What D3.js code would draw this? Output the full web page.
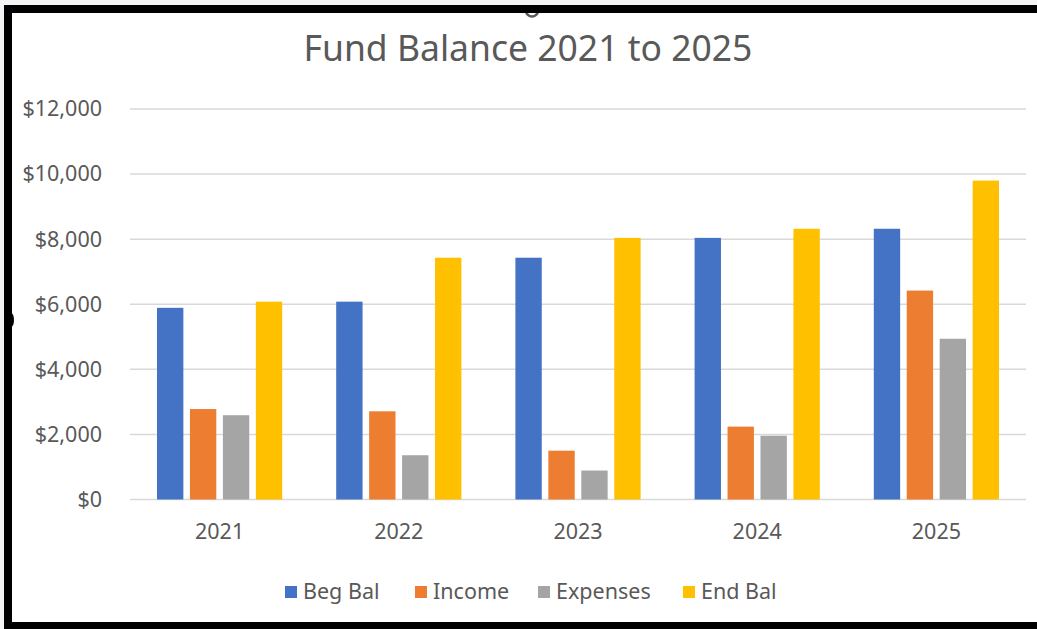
<!DOCTYPE html>
<html>
<head>
<meta charset="utf-8">
<script src="https://cdn.jsdelivr.net/npm/d3@7"></script>
<style>
  body { margin: 0; background: #f4f4f6; }
  svg { display: block; }
</style>
</head>
<body>
<svg id="chart" width="1037" height="629"></svg>
<script>
//Chart data
var years = ["2021", "2022", "2023", "2024", "2025"];
var seriesNames = ["Beg Bal", "Income", "Expenses", "End Bal"];
var begBal = [5890, 6080, 7430, 8040, 8320];
var income = [2780, 2710, 1500, 2240, 6420];
var expenses = [2590, 1360, 890, 1960, 4940];
var endBal = [6080, 7430, 8040, 8320, 9800];
var yTicks = [0, 2000, 4000, 6000, 8000, 10000, 12000];
var colors = ["#4472C4", "#ED7D31", "#A5A5A5", "#FFC000"];

var values = [begBal, income, expenses, endBal];
var font = "'Noto Sans', sans-serif";

var svg = d3.select("#chart");

//White chart area with the thick black frame (left, top, bottom)
svg.append("rect").attr("x", 4).attr("y", 5).attr("width", 1033).attr("height", 624).attr("fill", "#ffffff");

//Cut-off stroke of a line above the title (just a small curve)
svg.append("path")
    .attr("d", "M526,13 Q532,20 538,13")
    .attr("fill", "none")
    .attr("stroke", "#595959")
    .attr("stroke-width", 2.5);

svg.append("rect").attr("x", 4).attr("y", 5).attr("width", 1033).attr("height", 8).attr("fill", "#000");
svg.append("rect").attr("x", 4).attr("y", 5).attr("width", 8).attr("height", 624).attr("fill", "#000");
svg.append("rect").attr("x", 4).attr("y", 622).attr("width", 1033).attr("height", 7).attr("fill", "#000");
svg.append("ellipse").attr("cx", 11).attr("cy", 320).attr("rx", 3).attr("ry", 7).attr("fill", "#000");

//Scales
var x0 = d3.scaleBand().domain(years).range([130, 1026]);
var x1 = d3.scaleBand().domain(seriesNames)
    .range([27, x0.bandwidth() - 27]).paddingInner(0.2);
var y = d3.scaleLinear().domain([0, 12000]).range([499.5, 109]);

//Gridlines
svg.append("g")
    .selectAll("line")
    .data(yTicks)
    .join("line")
    .attr("x1", 130).attr("x2", 1026)
    .attr("y1", d => y(d)).attr("y2", d => y(d))
    .attr("stroke", "#d9d9d9").attr("stroke-width", 1.5);

//Y axis labels
var yAxis = d3.axisLeft(y).tickValues(yTicks).tickSize(0).tickPadding(0)
    .tickFormat(d => "$" + d3.format(",")(d));
svg.append("g")
    .attr("transform", "translate(102,0)")
    .call(yAxis)
    .call(g => g.select(".domain").remove())
    .selectAll("text")
    .attr("fill", "#595959")
    .style("font-family", font)
    .style("font-size", "21.5px");

//X axis labels
var xAxis = d3.axisBottom(x0).tickSize(0).tickPadding(0);
svg.append("g")
    .attr("transform", "translate(0,524)")
    .call(xAxis)
    .call(g => g.select(".domain").remove())
    .selectAll("text")
    .attr("fill", "#595959")
    .style("font-family", font)
    .style("font-size", "21.5px");

//Bars
var groups = svg.append("g")
    .selectAll("g")
    .data(years)
    .join("g")
    .attr("transform", d => "translate(" + x0(d) + ",0)");

groups.selectAll("rect")
    .data((yr, i) => seriesNames.map((s, j) => ({ key: s, value: values[j][i], color: colors[j] })))
    .join("rect")
    .attr("x", d => x1(d.key))
    .attr("width", x1.bandwidth())
    .attr("y", d => y(d.value))
    .attr("height", d => y(0) - y(d.value))
    .attr("fill", d => d.color);

//Title
svg.append("text")
    .attr("x", 528).attr("y", 61)
    .attr("text-anchor", "middle")
    .attr("fill", "#595959")
    .style("font-family", font)
    .style("font-size", "35.5px")
    .text("Fund Balance 2021 to 2025");

//Legend
var legendX = [285, 415, 538, 683];
var legend = svg.append("g")
    .selectAll("g")
    .data(seriesNames)
    .join("g")
    .attr("transform", (d, i) => "translate(" + legendX[i] + ",586)");
legend.append("rect")
    .attr("width", 12).attr("height", 12)
    .attr("fill", (d, i) => colors[i]);
legend.append("text")
    .attr("x", 18).attr("y", 13)
    .attr("fill", "#595959")
    .style("font-family", font)
    .style("font-size", "21.5px")
    .text(d => d);
</script>
</body>
</html>
